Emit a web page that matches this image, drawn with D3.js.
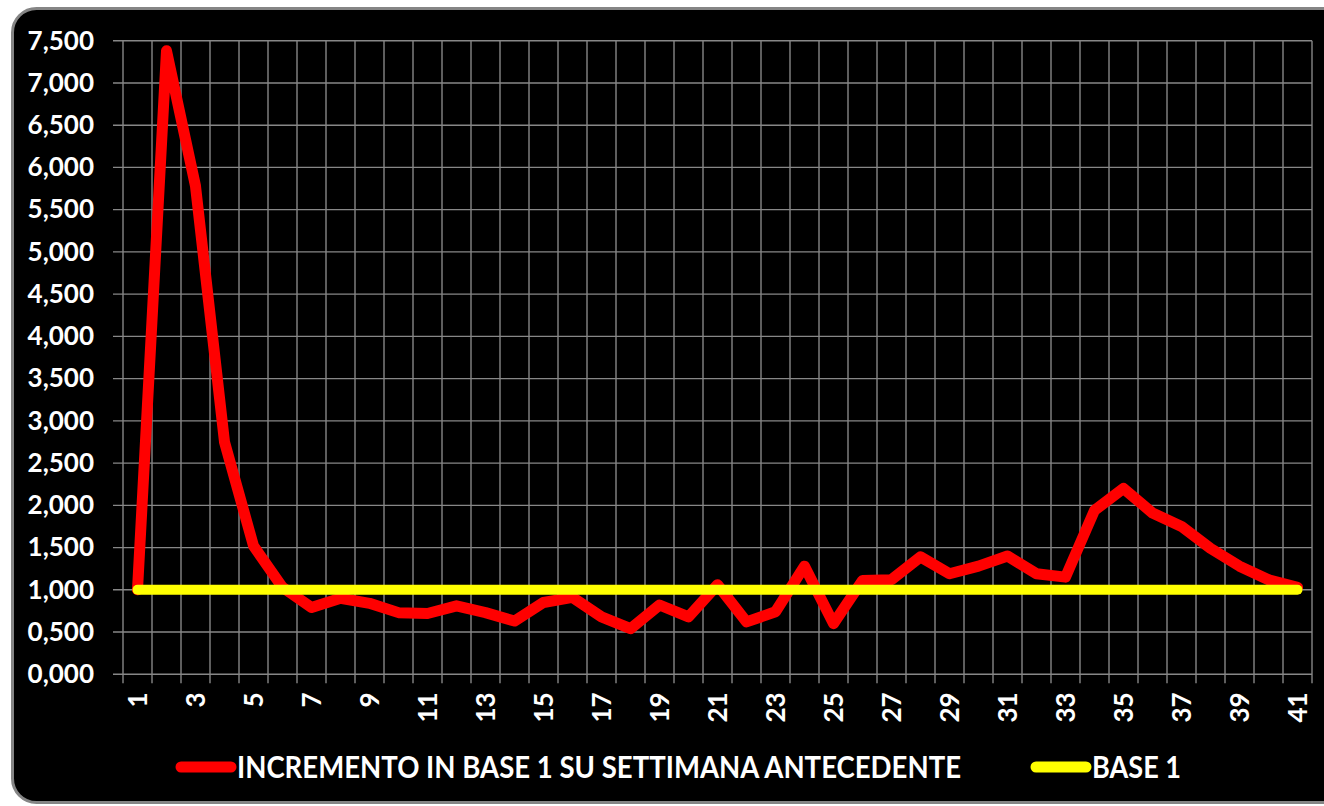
<!DOCTYPE html>
<html>
<head>
<meta charset="utf-8">
<script src="https://cdn.jsdelivr.net/npm/d3@7/dist/d3.min.js"></script>
<style>
  html, body { margin: 0; padding: 0; background: #ffffff; }
  svg { display: block; }
  text { font-family: Lato, "Open Sans", "DejaVu Sans", sans-serif; font-weight: bold; fill: #ffffff; }
</style>
</head>
<body>
<svg id="chart" width="1324" height="806"></svg>
<script>
// ---- data ----
const categories = [1,2,3,4,5,6,7,8,9,10,11,12,13,14,15,16,17,18,19,20,21,22,23,24,25,26,27,28,29,30,31,32,33,34,35,36,37,38,39,40,41];
const incremento = [1.00,7.38,5.78,2.75,1.52,1.03,0.79,0.90,0.84,0.73,0.72,0.81,0.73,0.63,0.85,0.91,0.68,0.54,0.82,0.68,1.06,0.62,0.74,1.28,0.60,1.11,1.12,1.39,1.19,1.28,1.40,1.19,1.15,1.94,2.20,1.91,1.75,1.49,1.28,1.12,1.03];
const base1 = [1,1,1,1,1,1,1,1,1,1,1,1,1,1,1,1,1,1,1,1,1,1,1,1,1,1,1,1,1,1,1,1,1,1,1,1,1,1,1,1,1];
const yTicks = [0,0.5,1,1.5,2,2.5,3,3.5,4,4.5,5,5.5,6,6.5,7,7.5];
const yTickLabels = ["0,000","0,500","1,000","1,500","2,000","2,500","3,000","3,500","4,000","4,500","5,000","5,500","6,000","6,500","7,000","7,500"];
const xTickLabels = [1,3,5,7,9,11,13,15,17,19,21,23,25,27,29,31,33,35,37,39,41];
const seriesNames = ["INCREMENTO IN BASE 1 SU SETTIMANA ANTECEDENTE", "BASE 1"];
const seriesColors = ["#ff0000", "#ffff00"];

// ---- layout ----
const svg = d3.select("#chart");
const plot = { left: 123, right: 1312, top: 40.7, bottom: 674.3 };

svg.append("rect")
  .attr("x", 12.5).attr("y", 8.5)
  .attr("width", 1340).attr("height", 794)
  .attr("rx", 24).attr("ry", 24)
  .attr("fill", "#000000")
  .attr("stroke", "#858585").attr("stroke-width", 3);

const x = d3.scaleBand().domain(categories).range([plot.left, plot.right]).padding(0);
const cx = c => x(c) + x.bandwidth() / 2;
const y = d3.scaleLinear().domain([0, 7.5]).range([plot.bottom, plot.top]);

const grid = svg.append("g").attr("stroke", "#878787").attr("stroke-width", 1.4);
// horizontal gridlines + outside tick marks
grid.selectAll("line.h").data(yTicks).join("line")
  .attr("class", "h")
  .attr("x1", plot.left - 10).attr("x2", plot.right)
  .attr("y1", d => y(d)).attr("y2", d => y(d));
// vertical gridlines at category boundaries + tick marks below
const bounds = categories.map(c => x(c)).concat([plot.right]);
grid.selectAll("line.v").data(bounds).join("line")
  .attr("class", "v")
  .attr("x1", d => d).attr("x2", d => d)
  .attr("y1", plot.top).attr("y2", plot.bottom + 9);

// y axis labels
const yAxis = d3.axisLeft(y).tickValues(yTicks)
  .tickFormat((d, i) => yTickLabels[i]).tickSize(10).tickPadding(19);
const gy = svg.append("g").attr("transform", `translate(${plot.left},0)`).call(yAxis);
gy.select(".domain").remove();
gy.selectAll(".tick line").remove();
gy.selectAll("text").attr("fill", "#ffffff").style("font-size", "26px")
  .style("font-family", "Lato, 'Open Sans', sans-serif").style("font-weight", "bold");

// x axis labels
const xAxis = d3.axisBottom(x).tickValues(xTickLabels).tickSize(0);
const gx = svg.append("g").attr("transform", `translate(0,${plot.bottom})`).call(xAxis);
gx.select(".domain").remove();
gx.selectAll(".tick line").remove();
gx.selectAll("text")
  .attr("fill", "#ffffff")
  .style("font-size", "26px")
  .style("font-family", "Lato, 'Open Sans', sans-serif").style("font-weight", "bold")
  .attr("text-anchor", "end")
  .attr("transform", "rotate(-90)")
  .attr("x", -18).attr("y", 0).attr("dy", "0.36em");

// lines
const line = d3.line().x((d, i) => cx(categories[i])).y(d => y(d));
svg.append("path").datum(incremento)
  .attr("d", line).attr("fill", "none")
  .attr("stroke", seriesColors[0]).attr("stroke-width", 11)
  .attr("stroke-linejoin", "round").attr("stroke-linecap", "round");
svg.append("path").datum(base1)
  .attr("d", line).attr("fill", "none")
  .attr("stroke", seriesColors[1]).attr("stroke-width", 10)
  .attr("stroke-linejoin", "round").attr("stroke-linecap", "round");

// legend
const legend = [
  { x1: 181, x2: 231, tx: 237, tw: 724 },
  { x1: 1036, x2: 1086, tx: 1092, tw: 89 }
];
const lg = svg.append("g");
legend.forEach((L, i) => {
  lg.append("line")
    .attr("x1", L.x1).attr("x2", L.x2).attr("y1", 767).attr("y2", 767)
    .attr("stroke", seriesColors[i]).attr("stroke-width", 11).attr("stroke-linecap", "round");
  lg.append("text")
    .attr("x", L.tx).attr("y", 778)
    .style("font-size", "30px")
    .attr("textLength", L.tw).attr("lengthAdjust", "spacingAndGlyphs")
    .text(seriesNames[i]);
});
</script>
</body>
</html>
